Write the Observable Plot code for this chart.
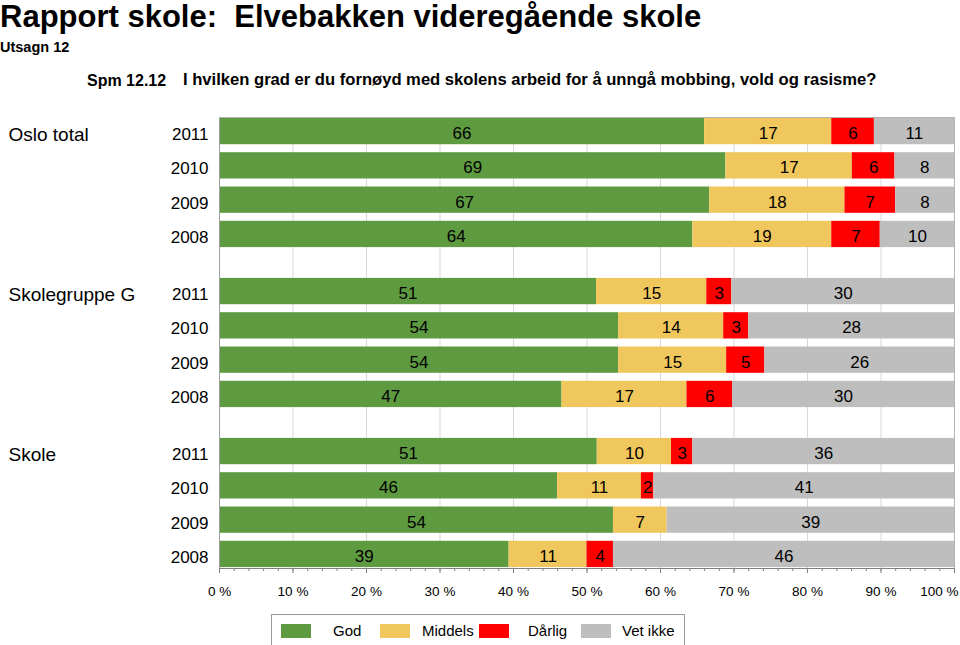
<!DOCTYPE html>
<html>
<head>
<meta charset="utf-8">
<script src="https://cdn.jsdelivr.net/npm/d3@7"></script>
<script src="https://cdn.jsdelivr.net/npm/@observablehq/plot@0.6"></script>
<style>
  body { margin: 0; background: #fff; }
  #wrap { position: relative; width: 960px; height: 645px; overflow: hidden; font-family: "Liberation Sans", Arial, sans-serif; color: #000; }
  .t { position: absolute; white-space: pre; line-height: 1; }
  #plot { position: absolute; left: 0; top: 0; }
  #legend { position: absolute; left: 271px; top: 614px; width: 412px; height: 31px; border: 1px solid #9a9a9a; background: #fff; }
  .sw { position: absolute; top: 9px; width: 30px; height: 14px; }
  .lt { position: absolute; top: 8px; font-family: "Liberation Sans", Arial, sans-serif; font-size: 15px; line-height: 1; }
</style>
</head>
<body>
<div id="wrap">
  <div class="t" style="left:0;top:1px;font-size:31px;font-weight:bold;">Rapport skole:  Elvebakken videregående skole</div>
  <div class="t" style="left:0;top:40px;font-size:14.5px;font-weight:bold;">Utsagn 12</div>
  <div class="t" style="left:87px;top:73px;font-size:16px;font-weight:bold;">Spm 12.12</div>
  <div class="t" style="left:183px;top:72px;font-size:16.6px;font-weight:bold;">I hvilken grad er du fornøyd med skolens arbeid for å unngå mobbing, vold og rasisme?</div>
  <div id="plot"></div>
  <div id="legend"></div>
</div>
<script>
// ---- data ----
const groups = ["Oslo total", "Skolegruppe G", "Skole"];
const years = ["2011", "2010", "2009", "2008"];
const categories = ["God", "Middels", "Dårlig", "Vet ikke"];
const colors = ["#5e9a40", "#f0c75c", "#ff0000", "#bebebe"];
const xTicks = [0, 10, 20, 30, 40, 50, 60, 70, 80, 90, 100];

// values per group, rows in order of years
const god = [
  [66.0, 68.9, 66.7, 64.4],
  [51.3, 54.3, 54.3, 46.6],
  [51.4, 46.0, 53.6, 39.4]
];
const middels = [
  [17.3, 17.2, 18.4, 18.9],
  [15.0, 14.3, 14.7, 17.0],
  [10.1, 11.4, 7.3, 10.6]
];
const darlig = [
  [5.8, 5.8, 6.9, 6.6],
  [3.4, 3.4, 5.2, 6.2],
  [2.9, 1.7, 0, 3.6]
];
const vetikke = [
  [10.9, 8.1, 8.0, 10.1],
  [30.3, 28.0, 25.8, 30.2],
  [35.6, 40.9, 39.1, 46.4]
];

// ---- layout of rows (row index with a gap between groups) ----
const groupGap = 0.665;
const rowPos = (g, i) => g * (years.length + groupGap) + i;

const series = [god, middels, darlig, vetikke];
const rows = [];
const yearTicks = [];
const yearOfPos = new Map();
groups.forEach((grp, g) => {
  years.forEach((yr, i) => {
    const p = rowPos(g, i);
    yearTicks.push(p);
    yearOfPos.set(p, yr);
    let acc = 0;
    categories.forEach((cat, c) => {
      const v = series[c][g][i];
      rows.push({group: grp, year: yr, pos: p, cat, value: v, x1: acc, x2: acc + v});
      acc += v;
    });
  });
});

const lastPos = rowPos(groups.length - 1, years.length - 1);

const chart = Plot.plot({
  width: 960,
  height: 612,
  marginTop: 117,
  marginBottom: 44,
  marginLeft: 219,
  marginRight: 6,
  style: {fontFamily: "'Liberation Sans', Arial, sans-serif", background: "transparent", color: "#000"},
  x: {domain: [0, 100]},
  y: {domain: [-0.41, lastPos + 0.41], reverse: true, axis: null},
  color: {domain: categories, range: colors},
  marks: [
    Plot.ruleX(xTicks.slice(1, -1), {stroke: "#d9d9d9", strokeWidth: 1}),
    Plot.rect(rows.filter(d => d.value > 0), {
      x1: "x1", x2: "x2",
      y1: d => d.pos - 0.5, y2: d => d.pos + 0.5,
      insetTop: 4, insetBottom: 4,
      fill: "cat"
    }),
    Plot.text(rows.filter(d => d.value > 0), {
      x: d => (d.x1 + d.x2) / 2,
      y: "pos",
      text: d => String(Math.round(d.value)),
      dy: 2,
      fontSize: 17,
      fill: "#000"
    }),
    Plot.frame({stroke: "#b4b4b4"}),
    Plot.frame({anchor: "left", stroke: "#a0a0a0"}),
    Plot.frame({anchor: "bottom", stroke: "#808080"}),
    Plot.axisY({
      ticks: yearTicks,
      tickFormat: p => yearOfPos.get(p),
      tickSize: 0,
      tickPadding: 11,
      fontSize: 17,
      dy: 3,
      label: null
    }),
    Plot.text(groups, {
      y: (d, i) => rowPos(i, 0),
      text: d => d,
      frameAnchor: "left",
      textAnchor: "start",
      dx: -211,
      dy: 3,
      fontSize: 19
    }),
    Plot.axisX({
      ticks: d3.range(0, 101, 2),
      tickSize: 3,
      tickFormat: () => "",
      stroke: "#808080",
      label: null
    }),
    Plot.axisX({
      ticks: xTicks,
      tickSize: 5,
      tickFormat: () => "",
      stroke: "#808080",
      label: null
    }),
    Plot.axisX({
      ticks: xTicks.slice(0, -1),
      tickSize: 0,
      tickPadding: 18,
      tickFormat: d => d + " %",
      fill: "#000",
      fontSize: 13.5,
      label: null
    }),
    Plot.axisX({
      ticks: xTicks.slice(-1),
      tickSize: 0,
      tickPadding: 18,
      tickFormat: d => d + " %",
      textAnchor: "end",
      dx: 4,
      fill: "#000",
      fontSize: 13.5,
      label: null
    })
  ]
});
document.getElementById("plot").appendChild(chart);

// ---- legend ----
const legend = document.getElementById("legend");
const swX = [9, 108, 207, 309];
const txX = [61, 150, 256, 350];
categories.forEach((cat, c) => {
  const s = document.createElement("div");
  s.className = "sw";
  s.style.left = swX[c] + "px";
  s.style.background = colors[c];
  legend.appendChild(s);
  const t = document.createElement("div");
  t.className = "lt";
  t.style.left = txX[c] + "px";
  t.textContent = cat;
  legend.appendChild(t);
});
</script>
</body>
</html>
